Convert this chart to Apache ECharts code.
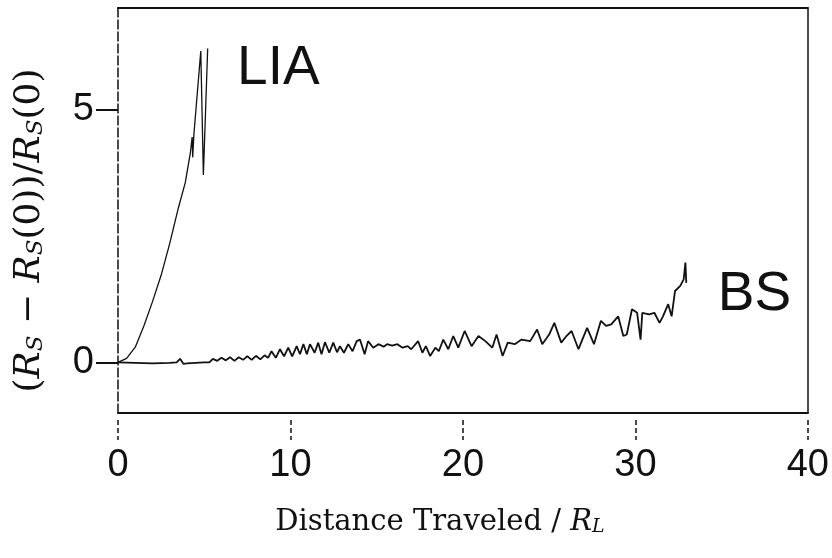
<!DOCTYPE html>
<html>
<head>
<meta charset="UTF-8">
<title>Rs growth</title>
<script src="https://cdn.jsdelivr.net/npm/echarts@6.0.0/dist/echarts.min.js"></script>
<style>
  html, body { margin: 0; padding: 0; background: #fff; }
  #chart { width: 832px; height: 558px; }
</style>
</head>
<body>
<div id="chart"></div>
<script>
// LIA curve
var liaX = [0, 0.5, 1.0, 1.5, 2.0, 2.5, 3.0, 3.5, 3.9, 4.2, 4.3, 4.33, 4.4, 4.8, 4.95, 5.2];
var liaY = [0, 0.08, 0.3, 0.72, 1.2, 1.72, 2.35, 3.05, 3.55, 4.15, 4.45, 4.05, 4.5, 6.15, 3.7, 6.2];

// BS curve
var bsX = [0, 1, 2, 3, 3.4, 3.6, 3.8, 4.0, 4.5, 5.0, 5.3,
  5.5, 5.75, 6.0, 6.25, 6.5, 6.75, 7.0, 7.25, 7.5, 7.75, 8.0, 8.25, 8.5, 8.7,
  8.9, 9.15, 9.39, 9.63, 9.87, 10.1, 10.36, 10.55, 10.75, 10.95, 11.13, 11.4, 11.61, 11.8, 12.0, 12.25,
  12.48, 12.7, 12.87, 13.1, 13.35, 13.6, 13.84, 14.03, 14.3, 14.5, 14.8, 15.1, 15.4, 15.6, 15.9, 16.2,
  16.5, 16.8, 17.0, 17.4, 17.65, 17.85, 18.1, 18.4, 18.6,
  18.86, 19.15, 19.44, 19.73, 20.1, 20.5, 20.9, 21.3, 21.7, 21.95, 22.3, 22.6, 23.0, 23.4, 23.9, 24.3,
  24.6, 25.0, 25.3, 25.7, 26.0, 26.3, 26.7, 27.2, 27.6, 28.0, 28.3, 28.6, 29.0, 29.3, 29.5, 29.8,
  30.1, 30.3, 30.4, 30.8, 31.1, 31.4, 31.6, 31.9, 32.1, 32.3, 32.6, 32.8, 32.9, 32.95];
var bsY = [0, -0.01, -0.02, -0.01, 0.0, 0.07, -0.03, -0.02, -0.01, 0.0, 0.0,
  0.07, 0.03, 0.09, 0.04, 0.1, 0.03, 0.1, 0.05, 0.12, 0.05, 0.13, 0.06, 0.14, 0.09,
  0.22, 0.09, 0.26, 0.12, 0.29, 0.12, 0.32, 0.16, 0.36, 0.16, 0.36, 0.19, 0.39, 0.16, 0.4, 0.19,
  0.39, 0.2, 0.32, 0.19, 0.36, 0.22, 0.42, 0.45, 0.16, 0.42, 0.29, 0.36, 0.31, 0.36, 0.33, 0.36,
  0.29, 0.32, 0.26, 0.42, 0.19, 0.32, 0.125, 0.29, 0.22,
  0.45, 0.26, 0.52, 0.29, 0.62, 0.32, 0.52, 0.42, 0.29, 0.55, 0.125, 0.39, 0.36, 0.45, 0.42, 0.65,
  0.36, 0.55, 0.78, 0.39, 0.52, 0.62, 0.26, 0.68, 0.36, 0.82, 0.72, 0.75, 0.91, 0.52, 0.55, 1.05,
  0.98, 0.45, 0.98, 0.95, 0.98, 0.78, 0.91, 1.15, 0.91, 1.41, 1.51, 1.64, 1.97, 1.57];

// axes / ticks
var xTicks = [0, 10, 20, 30, 40];
var yTicks = [0, 5];
var liaLabelAt = [9.3, 5.8];
var bsLabelAt = [36.9, 1.34];

function pairs(xs, ys) {
  return xs.map(function (x, i) { return [x, ys[i]]; });
}

var ink = '#111';
var chart = echarts.init(document.getElementById('chart'));

var option = {
  backgroundColor: '#fff',
  animation: false,
  grid: { left: 118, right: 24, top: 8, bottom: 145 },
  xAxis: [
    { // the frame line at the bottom
      type: 'value', position: 'bottom', min: 0, max: 40, interval: 10,
      axisLine: { show: true, onZero: false, lineStyle: { color: ink, width: 2 } },
      axisTick: { show: false }, axisLabel: { show: false }, splitLine: { show: false }
    },
    { // ticks + labels, drawn a little under the line
      type: 'value', position: 'bottom', offset: 7, min: 0, max: 40, interval: 10,
      axisLine: { show: false, onZero: false },
      axisTick: { show: true, length: 20, lineStyle: { color: ink, width: 1.5, type: [5, 3] } },
      axisLabel: {
        show: true, margin: 27, color: ink,
        fontFamily: 'Liberation Sans', fontSize: 38,
        customValues: xTicks
      },
      splitLine: { show: false },
      name: 'Distance Traveled / {i|R}{s|L}',
      nameLocation: 'middle', nameGap: 88,
      nameTextStyle: {
        fontFamily: 'DejaVu Serif', fontSize: 29, color: ink, padding: [0, 46, 0, 0],
        rich: {
          i: { fontFamily: 'DejaVu Serif', fontStyle: 'italic', fontSize: 29, color: ink },
          s: { fontFamily: 'DejaVu Serif', fontStyle: 'italic', fontSize: 19, color: ink, verticalAlign: 'bottom', lineHeight: 19 }
        }
      }
    },
    { // top frame
      type: 'value', position: 'top', min: 0, max: 40,
      axisLine: { show: true, onZero: false, lineStyle: { color: ink, width: 2 } },
      axisTick: { show: false }, axisLabel: { show: false }, splitLine: { show: false }
    }
  ],
  yAxis: [
    {
      type: 'value', position: 'left', min: -1, max: 7,
      axisLine: { show: true, onZero: false, lineStyle: { color: ink, width: 1.5, type: [9, 3] } },
      axisTick: { show: true, length: 22, customValues: yTicks, lineStyle: { color: ink, width: 2 } },
      axisLabel: {
        show: true, margin: 24, color: ink,
        fontFamily: 'Liberation Sans', fontSize: 38,
        customValues: yTicks
      },
      splitLine: { show: false },
      name: '({i|R}{s|S} − {i|R}{s|S}(0))/{i|R}{s|S}(0)',
      nameLocation: 'middle', nameRotate: 90, nameGap: 70,
      nameTextStyle: {
        fontFamily: 'DejaVu Serif', fontSize: 36, color: ink, padding: [0, 40, 0, 0],
        rich: {
          i: { fontFamily: 'DejaVu Serif', fontStyle: 'italic', fontSize: 36, color: ink },
          s: { fontFamily: 'DejaVu Serif', fontStyle: 'italic', fontSize: 23, color: ink, verticalAlign: 'bottom', lineHeight: 23 }
        }
      }
    },
    { // right frame
      type: 'value', position: 'right', min: -1, max: 7,
      axisLine: { show: true, onZero: false, lineStyle: { color: ink, width: 1.5 } },
      axisTick: { show: false }, axisLabel: { show: false }, splitLine: { show: false }
    }
  ],
  series: [
    {
      name: 'LIA', type: 'line', xAxisIndex: 0, yAxisIndex: 0,
      data: pairs(liaX, liaY), showSymbol: false, smooth: false,
      lineStyle: { color: ink, width: 1.3 },
      markPoint: {
        symbolSize: 0,
        label: { show: true, formatter: 'LIA', fontFamily: 'Liberation Sans', fontSize: 55, color: ink },
        data: [{ coord: liaLabelAt }]
      }
    },
    {
      name: 'BS', type: 'line', xAxisIndex: 0, yAxisIndex: 0,
      data: pairs(bsX, bsY), showSymbol: false, smooth: false,
      lineStyle: { color: ink, width: 1.8 },
      markPoint: {
        symbolSize: 0,
        label: { show: true, formatter: 'BS', fontFamily: 'Liberation Sans', fontSize: 55, color: ink },
        data: [{ coord: bsLabelAt }]
      }
    }
  ]
};
chart.setOption(option);
</script>
</body>
</html>
